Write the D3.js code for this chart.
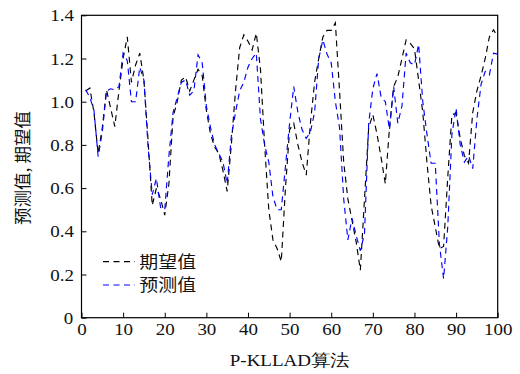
<!DOCTYPE html>
<html>
<head>
<meta charset="utf-8">
<script src="https://cdn.jsdelivr.net/npm/d3@7"></script>
<style>
  html, body { margin: 0; padding: 0; background: #fff; }
  svg { display: block; }
  .wide { transform-box: fill-box; transform-origin: center; transform: scaleX(1.15); }
</style>
</head>
<body>
<svg id="chart" width="520" height="374"></svg>
<script>
// Sample index 1..100
const samples = d3.range(1, 101);

// Expected values (期望值)
const expected = [
  1.05, 1.063, 0.95, 0.76, 0.88, 1.055, 0.97, 0.885, 1.05, 1.20,
  1.30, 1.09, 1.17, 1.225, 1.10, 0.82, 0.52, 0.60, 0.55, 0.475,
  0.62, 0.93, 1.00, 1.10, 1.115, 1.05, 1.10, 1.15, 1.12, 0.96,
  0.85, 0.79, 0.76, 0.68, 0.585, 0.80, 1.05, 1.25, 1.31, 1.28,
  1.24, 1.317, 1.15, 0.80, 0.50, 0.36, 0.32, 0.26, 0.60, 0.87,
  0.90, 0.80, 0.72, 0.66, 0.90, 1.09, 1.20, 1.30, 1.33, 1.33,
  1.365, 1.05, 0.72, 0.55, 0.45, 0.35, 0.22, 0.55, 0.88, 0.94,
  0.85, 0.74, 0.62, 0.88, 1.07, 1.115, 1.20, 1.286, 1.27, 1.245,
  1.10, 0.95, 0.72, 0.52, 0.42, 0.32, 0.33, 0.65, 0.94, 0.945,
  0.83, 0.75, 0.715, 0.95, 1.05, 1.12, 1.20, 1.30, 1.333, 1.30
];

// Predicted values (预测值)
const predicted = [
  1.055, 1.02, 0.96, 0.746, 0.86, 1.05, 1.06, 1.055, 1.07, 1.225,
  1.19, 1.00, 1.00, 1.16, 1.10, 0.79, 0.57, 0.645, 0.51, 0.50,
  0.75, 0.95, 1.02, 1.09, 1.10, 1.03, 1.05, 1.217, 1.18, 0.98,
  0.88, 0.80, 0.76, 0.72, 0.62, 0.84, 0.95, 1.05, 1.09, 1.16,
  1.20, 1.225, 0.92, 0.80, 0.72, 0.56, 0.50, 0.50, 0.70, 0.90,
  1.07, 0.95, 0.87, 0.83, 0.86, 0.95, 1.20, 1.286, 1.22, 1.18,
  1.00, 0.88, 0.55, 0.36, 0.46, 0.38, 0.31, 0.39, 0.90, 1.06,
  1.13, 1.02, 1.00, 0.87, 1.07, 0.90, 0.98, 1.225, 1.18, 1.17,
  1.265, 1.00, 0.85, 0.715, 0.715, 0.34, 0.18, 0.42, 0.85, 0.97,
  0.80, 0.72, 0.75, 0.69, 0.92, 1.08, 1.14, 1.124, 1.225, 1.22
];

const xTicks = [0, 10, 20, 30, 40, 50, 60, 70, 80, 90, 100];
const yTicks = [0, 0.2, 0.4, 0.6, 0.8, 1.0, 1.2, 1.4];
const seriesNames = ["期望值", "预测值"];
const seriesColors = ["#000000", "#0000ff"];
const xTitle = "P-KLLAD算法";
const yTitle = "预测值, 期望值";

const svg = d3.select("#chart");
const plotLeft = 81.5, plotRight = 497.7, plotTop = 15.3, plotBottom = 317.7;

const x = d3.scaleLinear().domain([0, 100]).range([plotLeft, plotRight]);
const y = d3.scaleLinear().domain([0, 1.4]).range([plotBottom, plotTop]);

const serif = "'Liberation Serif', 'Times New Roman', serif";
const cjk = "'Noto Sans CJK SC', sans-serif";

// Series lines
const line = d3.line().x((d, i) => x(samples[i])).y(d => y(d));
[expected, predicted].forEach((vals, k) => {
  svg.append("path")
    .datum(vals)
    .attr("d", line)
    .attr("fill", "none")
    .attr("stroke", seriesColors[k])
    .attr("stroke-width", 1.15)
    .attr("stroke-dasharray", "6,4.5");
});

// Frame
svg.append("rect")
  .attr("x", plotLeft).attr("y", plotTop)
  .attr("width", plotRight - plotLeft).attr("height", plotBottom - plotTop)
  .attr("fill", "none").attr("stroke", "#000").attr("stroke-width", 1.2);

// Bottom axis with inward ticks
const gx = svg.append("g")
  .attr("transform", `translate(0,${plotBottom})`)
  .call(d3.axisBottom(x).tickValues(xTicks).tickSize(-5).tickFormat(d3.format("d")));
gx.select(".domain").remove();
gx.selectAll("line").attr("stroke", "#000").attr("stroke-width", 1);
gx.selectAll("text")
  .attr("y", 17.5).attr("dy", 0)
  .attr("class", "wide")
  .style("font-family", serif).style("font-size", "16.5px").attr("fill", "#111");

// Left axis with inward ticks
const fmtY = d => d === 0 ? "0" : d3.format(".1f")(d);
const gy = svg.append("g")
  .attr("transform", `translate(${plotLeft},0)`)
  .call(d3.axisLeft(y).tickValues(yTicks).tickSize(-5).tickPadding(9).tickFormat(fmtY));
gy.select(".domain").remove();
gy.selectAll("line").attr("stroke", "#000").attr("stroke-width", 1);
gy.selectAll("text")
  .attr("dy", "0.34em")
  .attr("class", "wide")
  .style("font-family", serif).style("font-size", "16.5px").attr("fill", "#111");

// Axis titles
svg.append("text")
  .attr("x", (plotLeft + plotRight) / 2).attr("y", 366)
  .attr("text-anchor", "middle")
  .attr("class", "wide")
  .style("font-family", serif).style("font-size", "16.5px").attr("fill", "#111")
  .text(xTitle);

svg.append("text")
  .attr("transform", "translate(29,168) rotate(-90)")
  .attr("text-anchor", "middle")
  .style("font-family", cjk).style("font-size", "17.5px").attr("fill", "#111")
  .text(yTitle);

// Legend
const legend = svg.append("g");
seriesNames.forEach((name, k) => {
  const ly = 261.7 + k * 23.3;
  legend.append("line")
    .attr("x1", 103).attr("x2", 135).attr("y1", ly).attr("y2", ly)
    .attr("stroke", seriesColors[k]).attr("stroke-width", 1.2)
    .attr("stroke-dasharray", "6,4.5");
  legend.append("text")
    .attr("x", 143).attr("y", ly + 6)
    .attr("class", "wide")
    .style("font-family", cjk).style("font-size", "16.5px").attr("fill", "#111")
    .text(name);
});
</script>
</body>
</html>
